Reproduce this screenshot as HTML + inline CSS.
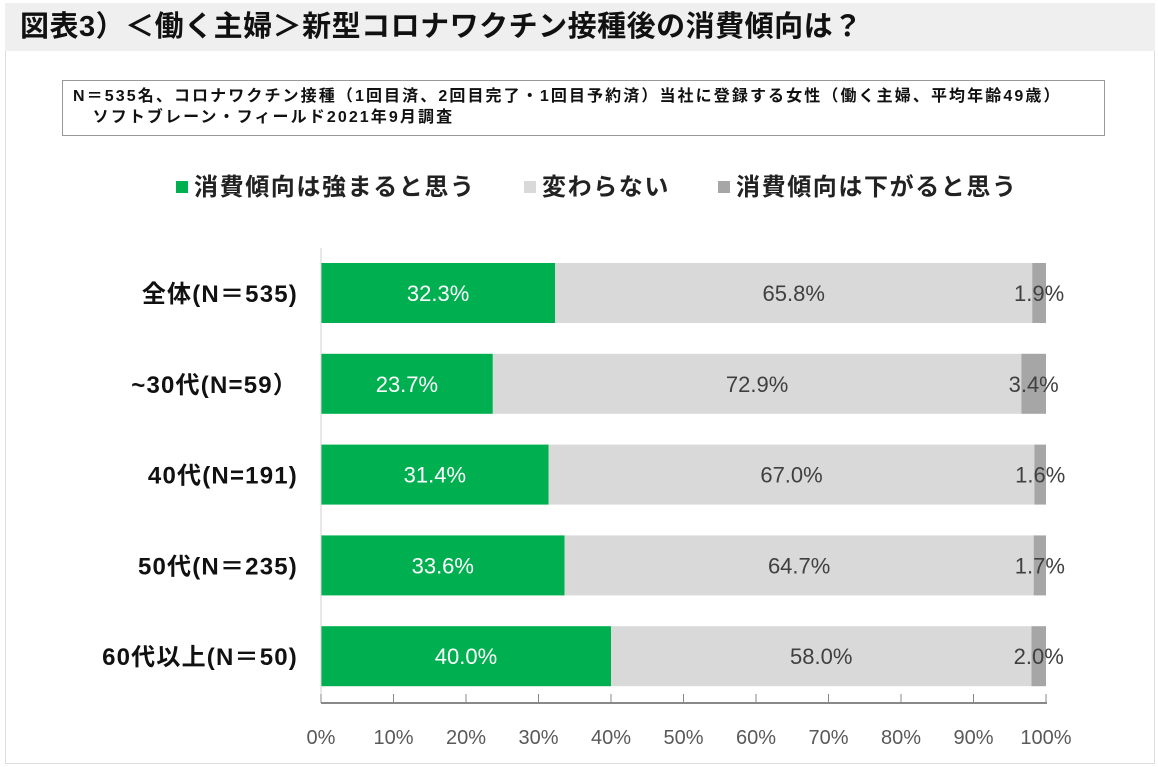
<!DOCTYPE html>
<html><head><meta charset="utf-8"><style>
body{margin:0;width:1158px;height:767px;background:#fff;font-family:"Liberation Sans","Noto Sans CJK JP",sans-serif;overflow:hidden;position:relative}
#title{position:absolute;left:5px;top:3px;width:1150px;height:48px;background:#efefef;font-weight:bold;font-size:29px;letter-spacing:0.5px;line-height:48px;padding-left:15px;box-sizing:border-box;color:#111;white-space:nowrap}
#frame{position:absolute;left:5px;top:51px;width:1150px;height:713px;border:1px solid #ddd;border-top:none;box-sizing:border-box}
#note{position:absolute;left:62px;top:80px;width:1043px;height:56px;border:1px solid #999;box-sizing:border-box;font-size:16px;letter-spacing:2.1px;font-weight:bold;padding:5px 0 0 10px;line-height:21px;color:#111;white-space:nowrap}
.leg{position:absolute;top:173px;font-size:24px;letter-spacing:1.6px;font-weight:bold;color:#222;line-height:30px;white-space:nowrap}
.sq{display:inline-block;width:12px;height:12px;margin-right:6px;vertical-align:2px}
</style></head><body>
<div id="title">図表3）＜働く主婦＞新型コロナワクチン接種後の消費傾向は？</div>
<div id="frame"></div>
<div id="note">N＝535名、コロナワクチン接種（1回目済、2回目完了・1回目予約済）当社に登録する女性（働く主婦、平均年齢49歳）<br>&nbsp;&nbsp;&nbsp;ソフトブレーン・フィールド2021年9月調査</div>
<div class="leg" style="left:176px"><span class="sq" style="background:#00b050"></span>消費傾向は強まると思う</div>
<div class="leg" style="left:524px"><span class="sq" style="background:#d9d9d9"></span>変わらない</div>
<div class="leg" style="left:718px"><span class="sq" style="background:#a6a6a6"></span>消費傾向は下がると思う</div>
<svg id="chart" width="1158" height="767" style="position:absolute;left:0;top:0"></svg>
<script>
const categories=["全体(N＝535)","~30代(N=59）","40代(N=191)","50代(N＝235)","60代以上(N＝50)"];
const increase=[32.3,23.7,31.4,33.6,40.0];
const same=[65.8,72.9,67.0,64.7,58.0];
const decrease=[1.9,3.4,1.6,1.7,2.0];
const ticks=[0,10,20,30,40,50,60,70,80,90,100];
const NS="http://www.w3.org/2000/svg";
const svg=document.getElementById('chart');
const x=v=>321+v*7.25;
const yc=i=>293+i*90.8;
function mk(t,a){const e=document.createElementNS(NS,t);for(const k in a)e.setAttribute(k,a[k]);svg.appendChild(e);return e;}
const series=[[increase,"#00b050","#fff","increase"],[same,"#d9d9d9","#404040","same"],[decrease,"#a6a6a6","#404040","decrease"]];
categories.forEach((c,i)=>{
  let acc=0;
  series.forEach(([arr,col,tc,nm])=>{
    const v=arr[i];
    const r=mk('rect',{x:x(acc),y:yc(i)-30,width:x(acc+v)-x(acc),height:60,fill:col});
    
    
    const t=mk('text',{x:(x(acc)+x(acc+v))/2,y:yc(i)+8,'text-anchor':'middle','font-size':22,fill:tc,'font-family':'Liberation Sans, sans-serif'});
    t.textContent=v.toFixed(1)+'%';
    
    
    acc+=v;
  });
  const l=mk('text',{x:298,y:yc(i)+9,'text-anchor':'end','font-size':24,'letter-spacing':1.2,'font-weight':'bold',fill:'#111','font-family':'Liberation Sans, Noto Sans CJK JP, sans-serif'});
  l.textContent=c;
  
  
});
const ax=mk('line',{x1:321,y1:248,x2:321,y2:703,stroke:'#d0d0d0','stroke-width':1});


const bx=mk('line',{x1:321,y1:703,x2:1047,y2:703,stroke:'#888','stroke-width':2});


ticks.forEach(v=>{
  const tk=mk('line',{x1:x(v),y1:694,x2:x(v),y2:703,stroke:'#888','stroke-width':1});
  
  
  const t=mk('text',{x:x(v),y:744,'text-anchor':'middle','font-size':20,fill:'#595959','font-family':'Liberation Sans, sans-serif'});
  t.textContent=v+'%';
  
  
});
</script>
</body></html>
